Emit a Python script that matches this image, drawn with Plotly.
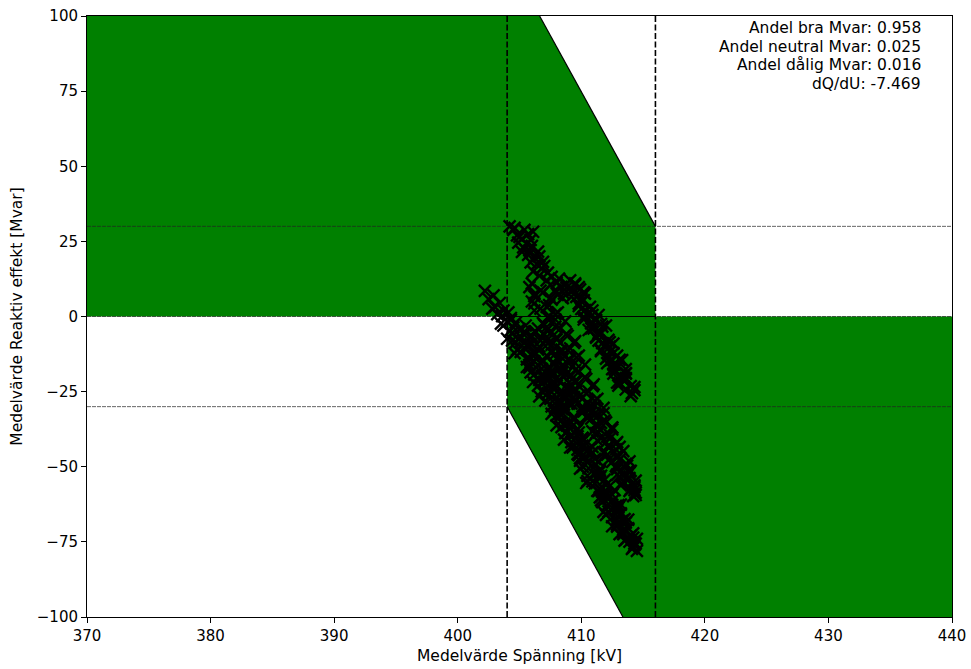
import plotly.graph_objects as go

# Thresholds / limits
U_LOW = 404.0
U_HIGH = 416.0
Q_LIM = 30.0
DQDU = -7.469

# Axis ticks
x_ticks = [370, 380, 390, 400, 410, 420, 430, 440]
y_ticks = [-100, -75, -50, -25, 0, 25, 50, 75, 100]
y_ticklabels = ["\u2212100", "\u221275", "\u221250", "\u221225", "0", "25", "50", "75", "100"]

# Annotation texts
info_lines = ["Andel bra Mvar: 0.958", "Andel neutral Mvar: 0.025",
              "Andel dålig Mvar: 0.016", "dQ/dU: -7.469"]

a_x = [402.2, 402.9, 402.5, 403.4, 403.0, 403.7, 403.2, 404.3, 404.0, 403.7, 405.0, 404.4, 405.1, 404.4,
       405.9, 405.4, 405.1, 406.1, 405.6, 406.7, 405.6, 406.6, 406.2, 407.5, 407.0, 406.5, 407.8, 407.3,
       408.0, 407.1, 408.6, 407.9, 408.4, 408.0, 409.4, 408.9, 408.4, 409.6, 409.2, 410.1, 409.2, 410.1,
       409.7, 410.9, 410.3, 409.9, 411.2, 410.6, 411.3, 410.5, 411.9, 411.1, 411.7, 411.3, 412.5, 412.1,
       411.7, 412.8, 412.4, 413.2, 412.5, 413.3, 412.9, 413.8, 413.4, 414.0, 413.6, 414.3, 414.2, 414.5,
       402.8, 404.1, 403.6, 404.3, 403.5, 404.5, 404.2, 405.4, 404.9, 404.7, 405.6, 404.8, 406.2, 405.7,
       406.2, 405.8, 406.8, 405.9, 406.8, 406.6, 407.6, 407.1, 406.8, 408.3, 407.5, 408.2, 407.6, 408.8,
       408.3, 408.2, 409.1, 408.6, 409.7, 408.8, 409.7, 409.4, 410.4, 409.3, 410.4, 409.8, 411.1, 410.5,
       410.1, 411.5, 411.0, 411.5, 410.9, 412.0, 411.5, 412.0, 411.6, 412.6, 412.2, 413.0, 412.2, 413.1,
       412.9, 413.6, 412.9, 413.6, 413.4, 414.2, 413.9, 414.3, 414.1,
       405.4, 404.0, 405.8, 404.6, 406.9, 405.8, 407.5, 406.1, 407.8, 406.6, 409.0, 407.8, 409.5, 408.0,
       409.8, 408.6, 410.9, 409.7, 411.4, 409.9, 411.6, 410.4, 412.7, 411.5, 413.2, 411.8, 413.5, 412.5,
       414.2, 413.5,
       408.5, 407.6, 409.4, 408.6, 409.1, 408.7, 410.1, 410.0, 409.1, 410.9, 410.0, 410.5, 410.1, 411.5,
       411.4, 410.5, 412.3, 411.4, 412.0, 411.6, 413.0, 412.9, 412.0, 413.8, 412.9, 413.4, 413.1, 414.5,
       414.4]
a_y = [8.5, 7.0, 5.8, 4.5, 3.2, 2.0, 0.8, -0.5, -1.7, -3.0, -4.2, -5.5, -6.8, -8.0,
       -9.2, -10.5, -11.8, -13.0, -14.3, -15.5, -16.8, -18.0, -19.3, -20.5, -21.8, -23.0, -24.3, -25.5,
       -26.8, -28.0, -29.3, -30.5, -31.8, -33.0, -34.3, -35.5, -36.8, -38.0, -39.3, -40.5, -41.8, -43.0,
       -44.3, -45.5, -46.8, -48.0, -49.3, -50.5, -51.8, -53.0, -54.3, -55.5, -56.8, -58.0, -59.3, -60.5,
       -61.8, -63.0, -64.3, -65.5, -66.8, -68.0, -69.3, -70.5, -71.8, -73.0, -74.3, -75.5, -76.8, -78.0,
       2.6, 1.4, 0.1, -1.1, -2.4, -3.6, -4.9, -6.1, -7.4, -8.6, -9.9, -11.1, -12.4, -13.6,
       -14.9, -16.1, -17.4, -18.6, -19.9, -21.1, -22.4, -23.6, -24.9, -26.1, -27.4, -28.6, -29.9, -31.1,
       -32.4, -33.6, -34.9, -36.1, -37.4, -38.6, -39.9, -41.1, -42.4, -43.6, -44.9, -46.1, -47.4, -48.6,
       -49.9, -51.1, -52.4, -53.6, -54.9, -56.1, -57.4, -58.6, -59.9, -61.1, -62.4, -63.6, -64.9, -66.1,
       -67.4, -68.6, -69.9, -71.1, -72.4, -73.6, -74.9, -76.1, -77.3,
       -5.0, -7.4, -9.8, -12.2, -14.6, -17.0, -19.4, -21.8, -24.2, -26.6, -29.0, -31.4, -33.8, -36.2,
       -38.6, -41.0, -43.4, -45.8, -48.2, -50.6, -53.0, -55.4, -57.8, -60.2, -62.6, -65.0, -67.4, -69.8,
       -72.2, -74.6,
       -30.8, -32.4, -34.0, -35.6, -37.2, -38.8, -40.4, -42.0, -43.6, -45.2, -46.8, -48.4, -50.0, -51.6,
       -53.2, -54.8, -56.4, -58.0, -59.6, -61.2, -62.8, -64.4, -66.0, -67.6, -69.2, -70.8, -72.4, -74.0,
       -75.6]

b_x = [406.0, 405.8, 406.7, 406.2, 407.5, 406.0, 407.4, 406.7, 408.1, 407.4, 407.9, 406.9, 407.9, 407.2,
       408.8, 408.0, 409.5, 407.6, 409.1, 408.4, 409.8, 409.0, 409.5, 408.5, 409.5, 408.8, 410.3, 409.5,
       411.0, 409.1, 410.6, 409.9, 411.3, 410.5, 411.1, 410.0, 411.1, 410.4, 411.9, 411.2, 412.5, 410.9,
       412.3, 411.6, 412.9, 412.2, 412.8, 411.8, 412.8, 412.2, 413.6, 412.9, 414.0, 412.9, 413.9, 413.4,
       414.3, 414.0, 414.4, 414.2,
       406.9, 406.2, 407.6, 406.2, 407.2, 406.2, 407.9, 407.3, 408.7, 407.0, 408.3, 407.6, 408.9, 408.0,
       409.4, 408.0, 408.9, 407.9, 409.6, 409.0, 410.3, 408.6, 409.8, 409.2, 410.4, 409.5, 410.9, 409.4,
       410.4, 409.4, 411.1, 410.5, 411.8, 410.2, 411.4, 410.8, 412.0, 411.2, 412.5, 411.2, 412.1, 411.3,
       412.8, 412.2, 413.4, 412.1, 413.2, 412.5, 413.7, 412.9, 413.9, 413.1, 413.8, 413.3, 414.3, 413.9,
       410.7, 411.8, 410.5, 411.6, 412.5, 411.4, 412.4, 412.0, 413.1, 411.9, 413.0, 413.9, 412.8, 413.8,
       413.4, 414.4, 413.2, 414.3, 414.4]
b_y = [11.0, 9.8, 8.6, 7.4, 6.2, 5.0, 3.8, 2.6, 1.4, 0.2, -1.0, -2.2, -3.4, -4.6,
       -5.8, -7.0, -8.2, -9.4, -10.6, -11.8, -13.0, -14.2, -15.4, -16.6, -17.8, -19.0, -20.2, -21.4,
       -22.6, -23.8, -25.0, -26.2, -27.4, -28.6, -29.8, -31.0, -32.2, -33.4, -34.6, -35.8, -37.0, -38.2,
       -39.4, -40.6, -41.8, -43.0, -44.2, -45.4, -46.6, -47.8, -49.0, -50.2, -51.4, -52.6, -53.8, -55.0,
       -56.2, -57.4, -58.6, -59.8,
       8.0, 6.8, 5.6, 4.4, 3.2, 2.0, 0.8, -0.4, -1.6, -2.8, -4.0, -5.2, -6.4, -7.6,
       -8.8, -10.0, -11.2, -12.4, -13.6, -14.8, -16.0, -17.2, -18.4, -19.6, -20.8, -22.0, -23.2, -24.4,
       -25.6, -26.8, -28.0, -29.2, -30.4, -31.6, -32.8, -34.0, -35.2, -36.4, -37.6, -38.8, -40.0, -41.2,
       -42.4, -43.6, -44.8, -46.0, -47.2, -48.4, -49.6, -50.8, -52.0, -53.2, -54.4, -55.6, -56.8, -58.0,
       -30.6, -32.2, -33.8, -35.4, -37.0, -38.6, -40.2, -41.8, -43.4, -45.0, -46.6, -48.2, -49.8, -51.4,
       -53.0, -54.6, -56.2, -57.8, -59.4]

# dense middle mass between the two main streaks
m_x = [405.5, 406.5, 406.2, 407.0, 405.9, 406.7, 407.3, 406.6, 406.5, 407.6, 407.2, 408.0, 406.9, 407.8,
       408.3, 407.6, 407.6, 408.6, 408.2, 409.0, 408.0, 408.8, 409.3, 408.6, 408.6, 409.6, 409.2, 410.1,
       404.7, 407.2, 406.3, 406.0, 407.2, 405.6, 408.4, 406.3, 408.5, 407.7, 407.4, 408.5, 407.0, 409.6,
       407.7, 409.6, 408.9, 408.7, 409.7, 408.4, 410.8]
m_y = [-3.0, -4.0, -5.0, -6.0, -7.0, -8.0, -9.0, -10.0, -11.0, -12.0, -13.0, -14.0, -15.0, -16.0,
       -17.0, -18.0, -19.0, -20.0, -21.0, -22.0, -23.0, -24.0, -25.0, -26.0, -27.0, -28.0, -29.0, -30.0,
       -2.0, -3.5, -5.0, -6.5, -8.0, -9.5, -11.0, -12.5, -14.0, -15.5, -17.0, -18.5, -20.0, -21.5,
       -23.0, -24.5, -26.0, -27.5, -29.0, -30.5, -32.0]

c_x = [409.1, 408.8, 409.8, 409.3, 410.3, 409.2, 410.2, 409.8, 410.7, 410.3, 410.5, 410.2, 411.2, 410.8,
       411.7, 410.6, 411.6, 411.2, 412.2, 411.7, 412.0, 411.6, 412.6, 412.2, 413.1, 412.1, 413.0, 412.7,
       413.6, 413.1, 413.4, 413.1, 414.0, 413.6, 414.1,
       410.0, 410.9, 411.4, 412.3, 412.6, 413.3, 409.5, 411.9,
       409.9, 410.0, 411.4, 410.8, 412.0, 411.4, 412.6, 412.0, 413.3, 412.6, 413.6, 413.5, 413.0, 414.3,
       414.0,
       409.5, 408.8, 410.2, 409.6, 410.0, 409.8, 410.9, 410.9, 410.2, 411.6, 411.0, 411.4, 411.2, 412.3,
       412.3, 411.6, 412.9, 412.4, 412.7, 412.5, 413.6, 413.6, 412.9, 414.3]
c_y = [12.0, 10.9, 9.8, 8.7, 7.6, 6.5, 5.4, 4.3, 3.2, 2.1, 1.0, -0.1, -1.2, -2.3,
       -3.4, -4.5, -5.6, -6.7, -7.8, -8.9, -10.0, -11.1, -12.2, -13.3, -14.4, -15.5, -16.6, -17.7,
       -18.8, -19.9, -21.0, -22.1, -23.2, -24.3, -25.5,
       6.0, -2.0, -6.0, -11.8, -16.0, -20.5, 10.5, -9.5,
       9.0, 2.5, 0.5, -4.0, -3.0, -8.0, -9.0, -14.0, -14.5, -19.0, -17.5, -21.5, -23.0, -24.5,
       -26.5,
       11.0, 9.5, 8.0, 6.5, 5.0, 3.5, 2.0, 0.5, -1.0, -2.5, -4.0, -5.5, -7.0, -8.5,
       -10.0, -11.5, -13.0, -14.5, -16.0, -17.5, -19.0, -20.5, -22.0, -23.5]

d_x = [404.2, 404.5, 405.4, 406.1, 405.7, 404.8, 405.2, 404.9, 405.6, 405.3, 405.8, 406.5, 405.7,
       406.2, 406.9, 406.4, 406.1, 406.8, 407.3, 407.6, 407.2, 408.0, 408.4, 407.9, 408.6, 408.5,
       404.6, 405.0, 405.9, 405.2, 406.0, 406.6, 405.9, 407.0, 406.6, 407.5, 408.2, 408.1]
d_y = [30.0, 28.8, 28.8, 28.2, 27.4, 27.0, 25.8, 24.6, 24.2, 23.0, 22.0, 21.6, 20.5,
       19.5, 18.2, 17.4, 15.0, 16.0, 14.6, 13.2, 12.0, 11.2, 9.9, 8.8, 7.6, 6.1,
       29.5, 26.5, 25.5, 21.5, 23.5, 20.0, 18.0, 16.8, 13.6, 10.5, 12.6, 7.2]

X_MIN, X_MAX = x_ticks[0], x_ticks[-1]
Y_MIN, Y_MAX = y_ticks[0], y_ticks[-1]

# boundary line crossing points
u_top = U_HIGH + (Y_MAX - Q_LIM) / DQDU
u_bot = U_LOW + (Y_MIN + Q_LIM) / DQDU

GREEN = "#008000"
FONT = "DejaVu Sans"
fig = go.Figure()

# good regions
fig.add_trace(go.Scatter(x=[X_MIN, X_MIN, u_top, U_HIGH, U_HIGH, X_MIN],
                         y=[0, Y_MAX, Y_MAX, Q_LIM, 0, 0],
                         fill="toself", fillcolor=GREEN, mode="lines",
                         line=dict(width=0), hoverinfo="skip", showlegend=False))
fig.add_trace(go.Scatter(x=[U_LOW, U_LOW, u_bot, X_MAX, X_MAX, U_LOW],
                         y=[0, -Q_LIM, Y_MIN, Y_MIN, 0, 0],
                         fill="toself", fillcolor=GREEN, mode="lines",
                         line=dict(width=0), hoverinfo="skip", showlegend=False))

# thin horizontal reference lines
for yv in [Q_LIM, 0, -Q_LIM]:
    fig.add_trace(go.Scatter(x=[X_MIN, X_MAX], y=[yv, yv], mode="lines",
                             line=dict(color="#222222", width=0.7, dash="4px,1px"),
                             showlegend=False, hoverinfo="skip"))

# diagonal edges and y=0 edge
fig.add_trace(go.Scatter(x=[u_top, U_HIGH], y=[Y_MAX, Q_LIM], mode="lines",
                         line=dict(color="black", width=1.2), showlegend=False))
fig.add_trace(go.Scatter(x=[U_LOW, u_bot], y=[-Q_LIM, Y_MIN], mode="lines",
                         line=dict(color="black", width=1.2), showlegend=False))
fig.add_trace(go.Scatter(x=[U_LOW, U_HIGH], y=[0, 0], mode="lines",
                         line=dict(color="black", width=1.2), showlegend=False))

# vertical dashed lines
for xv in [U_LOW, U_HIGH]:
    fig.add_trace(go.Scatter(x=[xv, xv], y=[Y_MIN, Y_MAX], mode="lines",
                             line=dict(color="black", width=1.6, dash="6px,2.5px"),
                             showlegend=False, hoverinfo="skip"))

# measurement points
fig.add_trace(go.Scatter(x=a_x + b_x + m_x + c_x + d_x, y=a_y + b_y + m_y + c_y + d_y,
                         mode="markers",
                         marker=dict(symbol="x-thin", size=12, color="black",
                                     line=dict(color="black", width=2.4)),
                         showlegend=False))

for i, t in enumerate(info_lines):
    fig.add_annotation(xref="paper", yref="paper", x=0.967, y=1 - (12.3 + 18.4 * i) / 601,
                       xanchor="right", yanchor="middle", text=t, showarrow=False,
                       font=dict(family=FONT, size=15.5, color="black"))

fig.update_layout(
    width=971, height=669,
    margin=dict(l=87, r=19, t=16, b=52, autoexpand=False),
    plot_bgcolor="white", paper_bgcolor="white",
    font=dict(family=FONT, size=15, color="black"),
    xaxis=dict(range=[X_MIN, X_MAX], tickvals=x_ticks, ticks="outside", ticklen=5,
               tickcolor="black", showline=True, linecolor="black", linewidth=1, mirror=True,
               showgrid=False, zeroline=False, tickfont=dict(size=15), automargin=False,
               title=dict(text="Medelvärde Spänning [kV]", standoff=6, font=dict(size=15.5))),
    yaxis=dict(range=[Y_MIN, Y_MAX], tickvals=y_ticks, ticktext=y_ticklabels, ticks="outside",
               ticklen=5, tickcolor="black", showline=True, linecolor="black", linewidth=1,
               mirror=True, showgrid=False, zeroline=False, tickfont=dict(size=15), automargin=False,
               title=dict(text="Medelvärde Reaktiv effekt [Mvar]", standoff=10, font=dict(size=15.5))),
)

fig.write_html("out.html")
